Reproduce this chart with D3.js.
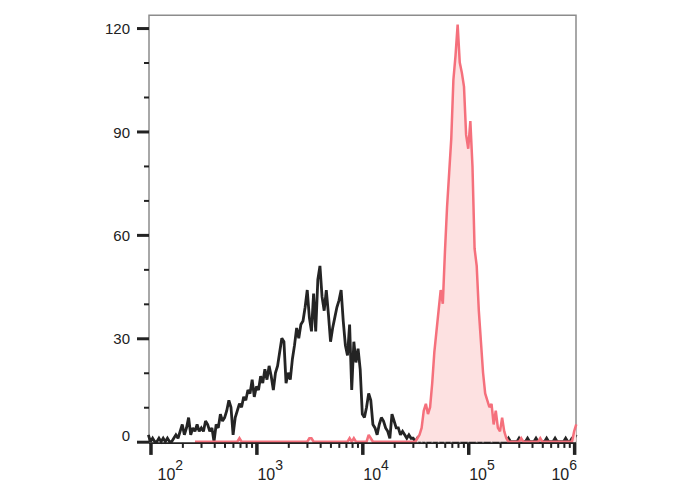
<!DOCTYPE html>
<html><head><meta charset="utf-8">
<script src="https://cdn.jsdelivr.net/npm/d3@7"></script>
<style>body{margin:0;background:#fff}svg{display:block}</style>
</head><body><svg id="c" width="688" height="490"></svg>
<script>
// ---- data (log10 channel bins, counts) ----
const blackStart = 1.98, binStep = 0.02;
const blackCounts = [
2,0,1,0,0,1,0,1,0,1,
0,0,1,2,1,3,5,2,4,7,
2,4,3,5,3,4,3,6,5,3,
4,0,5,4,8,6,7,9,12,10,
2,7,9,11,10,13,12,15,14,18,
13,16,15,19,17,21,18,22,19,15,
20,22,26,30,29,17,20,18,24,28,
33,30,34,35,39,44,36,32,43,32,
47,51,42,38,44,37,29,33,36,39,
41,44,35,28,25,34,15,29,23,27,
21,8,7,10,14,12,5,4,2,5,
7,6,4,3,1,8,6,4,4,2,
3,2,1,2,1,1,0,1,0,1,
0,1,0,0,1,0,0,1,0,0,
1,0,0,1,0,0,0,1,0,0,
0,1,0,0,0,1,0,0,1,0,
0,0,1,0,0,0,1,0,0,0,
1,0,0,0,0,1,0,0,0,1,
0,0,0,1,0,0,0,0,1,0,
0,0,1,0,0,0,0,1,0,0,
1,1,2
];
const pinkStart = 2.42;
const pinkCounts = [
0,0,0,0,0,0,0,0,0,0,
0,0,0,0,0,0,0,0,0,0,
0,1,0,0,0,0,0,0,0,0,
0,0,0,0,0,0,0,0,0,0,
0,0,0,0,0,0,0,0,0,0,
0,0,0,0,1,1,0,0,0,0,
0,0,0,0,0,0,0,0,0,0,
0,0,0,1,0,1,0,0,0,0,
0,0,2,1,0,0,0,0,0,0,
0,0,0,0,0,0,0,0,0,0,
0,0,0,0,0,1,2,4,9,11,
8,10,17,26,32,38,44,40,55,68,
78,88,105,112,121,110,107,103,89,85,
93,80,56,51,38,29,20,14,12,10,
11,5,9,4,3,7,3,1,0,0,
0,0,0,0,1,0,0,0,0,0,
0,0,0,1,0,0,0,0,0,0,
0,0,0,0,0,0,0,0,0,3,
5
];
const yMajor = [0,30,60,90,120];
const yMinor = [10,20,40,50,70,80,100,110];
const xDecades = [2,3,4,5,6];
const xMinorMult = [2,3,4,5,6,7,8,9];

// ---- layout ----
const L = 149, R = 576, T = 15.3, B = 441.7;
const svg = d3.select("#c");
const x = d3.scaleLog().domain([Math.pow(10,1.986), Math.pow(10,6.0175)]).range([L, R]);
const y = d3.scaleLinear().domain([0,123.7]).range([B, T]);

const blackData = blackCounts.map((c,i)=>({v:Math.pow(10, blackStart + i*binStep), c}));
const pinkData = pinkCounts.map((c,i)=>({v:Math.pow(10, pinkStart + i*binStep), c}));

// frame
svg.append("path").attr("d",`M${L},${B+1}V${T}H${R}V${B+1}`)
  .attr("fill","none").attr("stroke","#8c8c8c").attr("stroke-width",1.5);

const line = d3.line().x(d=>x(d.v)).y(d=>y(d.c));
const area = d3.area().x(d=>x(d.v)).y0(y(0)).y1(d=>y(d.c));

svg.append("path").datum(blackData).attr("d",line)
  .attr("fill","none").attr("stroke","#242424").attr("stroke-width",2.8).attr("stroke-linejoin","miter").attr("stroke-miterlimit",2);

svg.append("path").datum(pinkData).attr("d",area).attr("fill","#fde1e1");
svg.append("path").datum(pinkData).attr("d",line)
  .attr("fill","none").attr("stroke","#f5707c").attr("stroke-width",2.5).attr("stroke-linejoin","miter").attr("stroke-miterlimit",2);

// x axis baseline
svg.append("line").attr("x1",L).attr("x2",R).attr("y1",B+1.4).attr("y2",B+1.4)
  .attr("stroke","#222").attr("stroke-width",1.6);

// y axis
const yMaj = svg.append("g").attr("transform",`translate(${L},0)`)
  .call(d3.axisLeft(y).tickValues(yMajor).tickSizeInner(12).tickSizeOuter(0).tickPadding(7));
const yMin = svg.append("g").attr("transform",`translate(${L},0)`)
  .call(d3.axisLeft(y).tickValues(yMinor).tickSizeInner(5).tickSizeOuter(0).tickFormat(""));
[yMaj,yMin].forEach(g=>g.select(".domain").remove());
yMaj.selectAll(".tick line").attr("stroke","#222").attr("stroke-width",3);
yMin.selectAll(".tick line").attr("stroke","#222").attr("stroke-width",2);
yMaj.selectAll(".tick text").attr("font-family","'Liberation Sans', Arial, sans-serif")
  .attr("font-size",15).attr("fill","#222")
  .attr("dy", d => d===0 ? "-0.05em" : "0.37em");

// x axis
const xMinorVals = [];
[1,2,3,4,5].forEach(k=>xMinorMult.forEach(m=>{const v=m*Math.pow(10,k); if(v>=x.domain()[0]&&v<=x.domain()[1]) xMinorVals.push(v);}));
const xMaj = svg.append("g").attr("transform",`translate(0,${B+1.2})`)
  .call(d3.axisBottom(x).tickValues(xDecades.map(d=>Math.pow(10,d))).tickSizeInner(12).tickSizeOuter(0).tickFormat(""));
const xMin = svg.append("g").attr("transform",`translate(0,${B+1.2})`)
  .call(d3.axisBottom(x).tickValues(xMinorVals).tickSizeInner(5).tickSizeOuter(0).tickFormat(""));
[xMaj,xMin].forEach(g=>g.select(".domain").remove());
xMaj.selectAll(".tick line").attr("stroke","#222").attr("stroke-width",3.5);
xMin.selectAll(".tick line").attr("stroke","#222").attr("stroke-width",2);

// x labels 10^n
const lab = svg.append("g").attr("font-family","'Liberation Sans', Arial, sans-serif").attr("fill","#222");
xDecades.forEach(d=>{
  const t = lab.append("text").attr("y",480).attr("font-size",16);
  t.append("tspan").text("10");
  t.append("tspan").attr("font-size",14).attr("dy",-10).text(String(d));
  const w = t.node().getComputedTextLength();
  let sx = x(Math.pow(10,d)) + 1;
  if (sx < 157.5) sx = 157.5;
  if (sx + w > 577) sx = 577 - w;
  t.attr("x", sx);
});
</script></body></html>
